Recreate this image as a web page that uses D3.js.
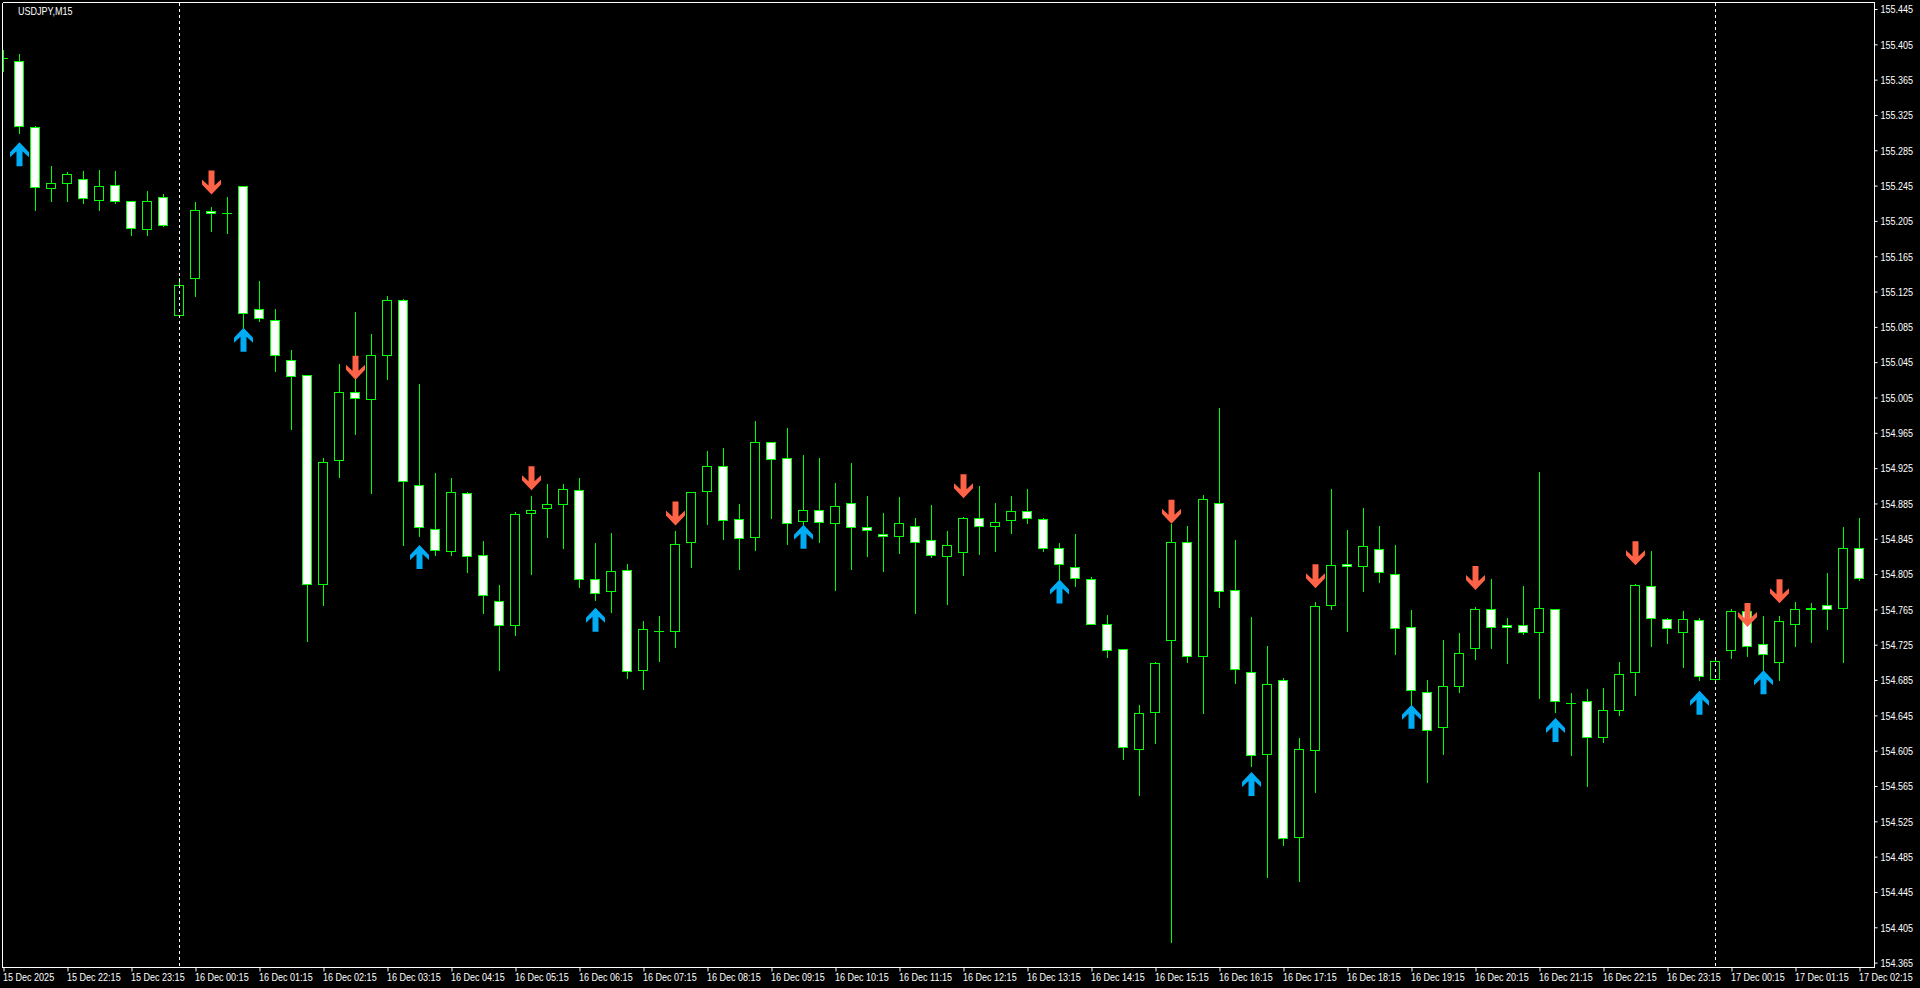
<!DOCTYPE html>
<html><head><meta charset="utf-8">
<script src="https://cdn.jsdelivr.net/npm/d3@7"></script>
<style>html,body{margin:0;padding:0;background:#000;overflow:hidden}</style>
</head><body><svg id="c" width="1920" height="988"></svg>
<script>
const symbolTitle = "USDJPY,M15";

const openP = [155.390,155.386,155.311,155.242,155.248,155.252,155.229,155.246,155.227,155.196,
155.232,155.098,155.140,155.216,155.214,155.245,155.105,155.093,155.048,155.031,
154.794,154.934,155.011,155.003,155.053,155.115,154.906,154.856,154.831,154.897,
154.827,154.775,154.747,154.874,154.880,154.884,154.900,154.799,154.786,154.810,
154.696,154.741,154.741,154.841,154.899,154.927,154.867,154.847,154.955,154.936,
154.865,154.878,154.863,154.885,154.858,154.850,154.848,154.860,154.844,154.825,
154.830,154.869,154.860,154.866,154.877,154.867,154.834,154.813,154.800,154.748,
154.720,154.607,154.649,154.730,154.841,154.712,154.885,154.787,154.694,154.601,
154.685,154.507,154.606,154.770,154.816,154.814,154.833,154.805,154.745,154.672,
154.632,154.678,154.721,154.765,154.747,154.747,154.739,154.765,154.659,154.661,
154.621,154.651,154.694,154.792,154.754,154.739,154.753,154.686,154.719,154.763,
154.726,154.705,154.749,154.765,154.770,154.767,154.834];
const highP = [155.399,155.394,155.312,155.267,155.260,155.262,155.263,155.262,155.227,155.239,
155.236,155.140,155.226,155.221,155.232,155.245,155.137,155.105,155.059,155.031,
154.937,155.043,155.102,155.077,155.120,155.117,155.020,154.919,154.914,154.898,
154.843,154.793,154.875,154.893,154.907,154.907,154.914,154.840,154.852,154.816,
154.752,154.758,154.854,154.898,154.944,154.948,154.884,154.978,154.955,154.970,
154.940,154.937,154.908,154.931,154.893,154.874,154.892,154.869,154.883,154.854,
154.870,154.905,154.885,154.893,154.901,154.868,154.840,154.850,154.802,154.759,
154.720,154.657,154.706,154.862,154.860,154.895,154.993,154.844,154.756,154.724,
154.687,154.619,154.773,154.901,154.855,154.880,154.860,154.838,154.764,154.685,
154.730,154.738,154.768,154.799,154.755,154.792,154.921,154.765,154.670,154.675,
154.676,154.705,154.794,154.831,154.755,154.763,154.755,154.708,154.766,154.771,
154.758,154.758,154.773,154.772,154.806,154.858,154.868];
const lowP = [155.375,155.305,155.217,155.227,155.227,155.225,155.217,155.225,155.189,155.189,
155.199,155.098,155.120,155.194,155.191,155.081,155.092,155.035,154.969,154.729,
154.770,154.915,154.964,154.897,155.026,154.838,154.848,154.827,154.827,154.807,
154.761,154.696,154.736,154.805,154.847,154.835,154.790,154.776,154.762,154.687,
154.675,154.707,154.722,154.813,154.862,154.845,154.811,154.832,154.868,154.839,
154.861,154.841,154.787,154.811,154.825,154.809,154.829,154.761,154.824,154.771,
154.804,154.828,154.831,154.852,154.863,154.831,154.800,154.792,154.749,154.711,
154.596,154.555,154.614,154.388,154.705,154.648,154.768,154.682,154.588,154.462,
154.498,154.457,154.558,154.766,154.740,154.786,154.796,154.715,154.657,154.569,
154.601,154.671,154.709,154.721,154.704,154.737,154.665,154.649,154.600,154.565,
154.615,154.645,154.668,154.723,154.727,154.700,154.685,154.685,154.710,154.712,
154.696,154.685,154.724,154.728,154.743,154.705,154.798];
const closeP = [155.389,155.312,155.243,155.248,155.258,155.231,155.245,155.227,155.197,155.227,
155.200,155.132,155.217,155.214,155.214,155.101,155.095,155.053,155.029,154.794,
154.932,155.011,155.004,155.053,155.115,154.911,154.858,154.832,154.898,154.826,
154.781,154.747,154.873,154.878,154.884,154.901,154.800,154.784,154.809,154.695,
154.743,154.741,154.839,154.898,154.927,154.866,154.846,154.955,154.935,154.863,
154.878,154.864,154.882,154.858,154.855,154.848,154.863,154.841,154.827,154.838,
154.869,154.860,154.864,154.876,154.869,154.835,154.817,154.801,154.749,154.719,
154.609,154.648,154.704,154.841,154.712,154.890,154.786,154.698,154.600,154.680,
154.506,154.607,154.769,154.815,154.814,154.837,154.807,154.744,154.674,154.628,
154.678,154.716,154.765,154.745,154.745,154.739,154.767,154.661,154.659,154.620,
154.651,154.692,154.793,154.755,154.744,154.754,154.690,154.707,154.763,154.723,
154.714,154.752,154.765,154.767,154.766,154.835,154.801];

const timeLabels = ["15 Dec 2025","15 Dec 22:15","15 Dec 23:15",
"16 Dec 00:15","16 Dec 01:15","16 Dec 02:15","16 Dec 03:15","16 Dec 04:15","16 Dec 05:15",
"16 Dec 06:15","16 Dec 07:15","16 Dec 08:15","16 Dec 09:15","16 Dec 10:15","16 Dec 11:15",
"16 Dec 12:15","16 Dec 13:15","16 Dec 14:15","16 Dec 15:15","16 Dec 16:15","16 Dec 17:15",
"16 Dec 18:15","16 Dec 19:15","16 Dec 20:15","16 Dec 21:15","16 Dec 22:15","16 Dec 23:15",
"17 Dec 00:15","17 Dec 01:15","17 Dec 02:15"];
const timeLabelBars = [0,4,8,12,16,20,24,28,32,36,40,44,48,52,56,60,64,68,72,76,80,84,88,92,96,100,104,108,112,116];

const priceTicks = [155.445,155.405,155.365,155.325,155.285,155.245,155.205,155.165,155.125,155.085,
155.045,155.005,154.965,154.925,154.885,154.845,154.805,154.765,154.725,154.685,
154.645,154.605,154.565,154.525,154.485,154.445,154.405,154.365];

const buyBars   = [1,15,26,37,50,66,78,88,97,106,110];
const buyLevels = [155.294,155.084,154.838,154.767,154.861,154.799,154.581,154.657,154.642,154.673,154.696];
const sellBars   = [13,22,33,42,60,73,82,92,102,109,111];
const sellLevels = [155.235,155.025,154.900,154.860,154.891,154.862,154.789,154.787,154.815,154.745,154.772];
const separatorBars = [11,107];

const svg = d3.select("#c");
const W = 1920, H = 988;
const plotL = 2.5, plotT = 2.5, plotR = 1874.5, plotB = 967.5;
const x = d3.scaleLinear().domain([0,116]).range([3,1859]);
const y = d3.scaleLinear().domain([154.365,155.445]).range([962.6,9]);
const GREEN = "#00FF00";
const FONT = "'Liberation Sans', Arial, sans-serif";

svg.append("rect").attr("width",W).attr("height",H).attr("fill","#000");

const defs = svg.append("defs");
defs.append("clipPath").attr("id","plot").append("rect")
  .attr("x",3).attr("y",3).attr("width",plotR-3).attr("height",plotB-3.5);

const bars = openP.map((o,i)=>({i,o,h:highP[i],l:lowP[i],c:closeP[i]}));
const g = svg.append("g").attr("clip-path","url(#plot)");

bars.forEach(b=>{
  const cx = Math.round(x(b.i));
  const top = Math.round(y(Math.max(b.o,b.c)));
  const bot = Math.round(y(Math.min(b.o,b.c)));
  const yh = Math.round(y(b.h)), yl = Math.round(y(b.l));
  const bear = b.c < b.o;
  if (yh < top) g.append("line").attr("x1",cx+0.5).attr("x2",cx+0.5).attr("y1",yh).attr("y2",top+0.5)
     .attr("stroke",GREEN).attr("stroke-width",1);
  if (yl > bot) g.append("line").attr("x1",cx+0.5).attr("x2",cx+0.5).attr("y1",bot+0.5).attr("y2",yl+1)
     .attr("stroke",GREEN).attr("stroke-width",1);
  if (bot - top < 1) {
    g.append("line").attr("x1",cx-5).attr("x2",cx+5).attr("y1",top+0.5).attr("y2",top+0.5)
     .attr("stroke",GREEN).attr("stroke-width",1);
  } else {
    g.append("rect").attr("x",cx-4.5).attr("y",top+0.5).attr("width",9).attr("height",bot-top)
     .attr("fill",bear?"#fff":"none").attr("stroke",GREEN).attr("stroke-width",1);
  }
});

// period separators
separatorBars.forEach(s=>{
  const sx = Math.round(x(s))+0.5;
  svg.append("line").attr("x1",sx).attr("x2",sx).attr("y1",3).attr("y2",plotB-0.5)
    .attr("stroke","#fff").attr("stroke-width",1).attr("stroke-dasharray","3,3");
});

// arrows
const upPath = "M0,0 L9.5,10 L9.5,15 L3,9 L3,24 L-3,24 L-3,9 L-9.5,15 L-9.5,10 Z";
const ga = svg.append("g").attr("clip-path","url(#plot)");
buyBars.forEach((bi,k)=>{
  ga.append("path").attr("d",upPath)
    .attr("transform",`translate(${Math.round(x(bi))+0.5},${y(buyLevels[k])})`)
    .attr("fill","#00ADF5");
});
sellBars.forEach((bi,k)=>{
  ga.append("path").attr("d",upPath)
    .attr("transform",`translate(${Math.round(x(bi))+0.5},${y(sellLevels[k])}) scale(1,-1)`)
    .attr("fill","#FF6347");
});

// frame
const frame = svg.append("g").attr("stroke","#fff").attr("stroke-width",1).attr("shape-rendering","crispEdges");
frame.append("line").attr("x1",plotL).attr("x2",plotR).attr("y1",plotT).attr("y2",plotT);
frame.append("line").attr("x1",plotL).attr("x2",plotL).attr("y1",plotT).attr("y2",plotB);
frame.append("line").attr("x1",plotR).attr("x2",plotR).attr("y1",plotT).attr("y2",plotB);
frame.append("line").attr("x1",plotL).attr("x2",plotR).attr("y1",plotB).attr("y2",plotB);

// y axis
const yAxis = d3.axisRight(y).tickValues(priceTicks).tickSize(3).tickFormat(d3.format(".3f"));
const gy = svg.append("g").attr("transform",`translate(${plotR},0)`).call(yAxis);
gy.select(".domain").remove();
gy.selectAll(".tick line").attr("stroke","#fff");
gy.selectAll(".tick text").attr("x",null).attr("dy","0.36em")
  .attr("transform","translate(6,0) scale(0.86,1)")
  .attr("fill","#fff").attr("font-family",FONT).attr("font-size","10.5px").attr("text-anchor","start");

// x axis
const xAxis = d3.axisBottom(x).tickValues(timeLabelBars).tickSize(4)
  .tickFormat((d,i)=>timeLabels[i]);
const gx = svg.append("g").attr("transform",`translate(0.5,${plotB})`).call(xAxis);
gx.select(".domain").remove();
gx.selectAll(".tick line").attr("stroke","#fff");
gx.selectAll(".tick text").attr("y",null).attr("dy",null)
  .attr("transform","translate(-1,13) scale(0.86,1)")
  .attr("fill","#fff").attr("font-family",FONT).attr("font-size","10.5px").attr("text-anchor","start");

// title
svg.append("text").attr("transform","translate(18,14.5) scale(0.86,1)")
  .attr("fill","#fff").attr("font-family",FONT).attr("font-size","10.5px").text(symbolTitle);
</script></body></html>
